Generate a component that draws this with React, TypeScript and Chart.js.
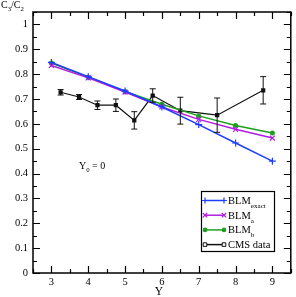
import { useEffect, useRef } from 'react';
import { Chart, registerables } from 'chart.js';
Chart.register(...registerables);

const rapidity = [3, 4, 5, 6, 7, 8, 9];
const blmExact = [0.847, 0.79, 0.732, 0.668, 0.597, 0.523, 0.45];
const blmA = [0.835, 0.785, 0.728, 0.668, 0.618, 0.578, 0.543];
const blmB = [0.845, 0.788, 0.73, 0.679, 0.632, 0.593, 0.563];
const cmsRapidity = [3.25, 3.75, 4.25, 4.75, 5.25, 5.75, 6.5, 7.5, 8.75];
const cmsValues = [0.727, 0.708, 0.675, 0.675, 0.614, 0.714, 0.653, 0.635, 0.735];
const cmsErrors = [0.011, 0.01, 0.017, 0.025, 0.035, 0.027, 0.054, 0.069, 0.055];
const xTickValues = [3, 4, 5, 6, 7, 8, 9];
const yTickValues = [0, 0.1, 0.2, 0.3, 0.4, 0.5, 0.6, 0.7, 0.8, 0.9, 1];

const BLUE = '#1f3dff';
const MAGENTA = '#b01ee0';
const GREEN = '#1ea01e';
const BLACK = '#111111';
const FONT = '"Liberation Serif", "Times New Roman", serif';

function drawSubText(ctx: CanvasRenderingContext2D, x: number, y: number, main: string, sub: string, size: number, rest = '', drop = 0.35) {
  ctx.font = `${size}px ${FONT}`;
  ctx.textBaseline = 'alphabetic';
  ctx.textAlign = 'left';
  ctx.fillText(main, x, y);
  let w = ctx.measureText(main).width;
  ctx.font = `${size * 0.68}px ${FONT}`;
  ctx.fillText(sub, x + w, y + size * drop);
  w += ctx.measureText(sub).width;
  if (rest) {
    ctx.font = `${size}px ${FONT}`;
    ctx.fillText(rest, x + w, y);
    w += ctx.measureText(rest).width;
  }
  return w;
}

const framePlugin = {
  id: 'frameTicks',
  afterDatasetsDraw(chart: any) {
    const { ctx, chartArea: a, scales } = chart;
    const xs = scales.x, ys = scales.y;
    ctx.save();
    // error bars
    ctx.strokeStyle = BLACK;
    ctx.lineWidth = 1;
    cmsRapidity.forEach((r, i) => {
      const px = xs.getPixelForValue(r);
      const top = ys.getPixelForValue(cmsValues[i] + cmsErrors[i]);
      const bot = ys.getPixelForValue(cmsValues[i] - cmsErrors[i]);
      ctx.beginPath();
      ctx.moveTo(px, top); ctx.lineTo(px, bot);
      ctx.moveTo(px - 3, top); ctx.lineTo(px + 3, top);
      ctx.moveTo(px - 3, bot); ctx.lineTo(px + 3, bot);
      ctx.stroke();
    });
    // frame
    ctx.strokeStyle = '#000';
    ctx.lineWidth = 1.5;
    ctx.strokeRect(a.left, a.top, a.right - a.left, a.bottom - a.top);
    ctx.lineWidth = 1.2;
    ctx.beginPath();
    for (let v = 2.5; v <= 9.5001; v += 0.5) {
      const px = Math.round(xs.getPixelForValue(v)) + 0.5;
      const len = Math.abs(v - Math.round(v)) < 1e-6 ? 7 : 4;
      ctx.moveTo(px, a.bottom); ctx.lineTo(px, a.bottom - len);
      ctx.moveTo(px, a.top); ctx.lineTo(px, a.top + len);
    }
    for (let k = 0; k <= 21; k++) {
      const v = k * 0.05;
      const py = Math.round(ys.getPixelForValue(v)) + 0.5;
      const len = k % 2 === 0 ? 7 : 4;
      ctx.moveTo(a.left, py); ctx.lineTo(a.left + len, py);
      ctx.moveTo(a.right, py); ctx.lineTo(a.right - len, py);
    }
    ctx.stroke();
    ctx.restore();
  },
  afterDraw(chart: any) {
    const { ctx } = chart;
    ctx.save();
    ctx.fillStyle = '#000';
    // axis titles
    const w1 = drawSubText(ctx, 1, 8, 'C', '3', 10, '', 0.3);
    drawSubText(ctx, 1 + w1, 8, '/C', '2', 10, '', 0.3);
    ctx.font = `11.5px ${FONT}`;
    ctx.textAlign = 'center';
    ctx.textBaseline = 'alphabetic';
    ctx.fillText('Y', 159, 295);
    // annotation
    drawSubText(ctx, 79, 168.5, 'Y', '0', 10, ' = 0', 0.3);
    // legend
    const bx = 201.5, by = 191.5, bw = 73, bh = 60;
    ctx.fillStyle = '#fff';
    ctx.fillRect(bx, by, bw, bh);
    ctx.strokeStyle = '#000';
    ctx.lineWidth = 1.2;
    ctx.strokeRect(bx, by, bw, bh);
    const items = [
      { main: 'BLM', sub: 'exact', color: BLUE, style: 'cross' },
      { main: 'BLM', sub: 'a', color: MAGENTA, style: 'crossRot' },
      { main: 'BLM', sub: 'b', color: GREEN, style: 'circle' },
      { main: 'CMS data', sub: '', color: BLACK, style: 'hollow' },
    ];
    items.forEach((it, i) => {
      const y = 200.5 + i * 14.7;
      ctx.strokeStyle = it.color;
      ctx.fillStyle = it.color;
      ctx.lineWidth = 1.5;
      ctx.beginPath();
      ctx.moveTo(205, y); ctx.lineTo(224, y);
      ctx.stroke();
      [205, 224].forEach((mx) => {
        ctx.beginPath();
        if (it.style === 'cross') {
          ctx.lineWidth = 1.2;
          ctx.moveTo(mx - 3, y); ctx.lineTo(mx + 3, y);
          ctx.moveTo(mx, y - 3); ctx.lineTo(mx, y + 3);
          ctx.stroke();
        } else if (it.style === 'crossRot') {
          ctx.lineWidth = 1.2;
          ctx.moveTo(mx - 2.2, y - 2.2); ctx.lineTo(mx + 2.2, y + 2.2);
          ctx.moveTo(mx - 2.2, y + 2.2); ctx.lineTo(mx + 2.2, y - 2.2);
          ctx.stroke();
        } else if (it.style === 'circle') {
          ctx.arc(mx, y, 2.3, 0, Math.PI * 2);
          ctx.fill();
        } else {
          ctx.fillStyle = '#fff';
          ctx.lineWidth = 1;
          ctx.rect(mx - 1.8, y - 1.8, 3.6, 3.6);
          ctx.fill();
          ctx.stroke();
        }
      });
      ctx.fillStyle = '#000';
      ctx.textBaseline = 'alphabetic';
      if (it.sub) drawSubText(ctx, 228, y + 3.5, it.main, it.sub, 10.5, '', 0.38);
      else {
        ctx.font = `10.5px ${FONT}`;
        ctx.textAlign = 'left';
        ctx.fillText(it.main, 228, y + 3.5);
      }
    });
    ctx.restore();
  },
};

export default function App() {
  const ref = useRef<HTMLCanvasElement>(null);
  useEffect(() => {
    if (!ref.current) return;
    const pts = (xs: number[], ys: number[]) => xs.map((x, i) => ({ x, y: ys[i] }));
    const chart = new Chart(ref.current, {
      type: 'line',
      data: {
        datasets: [
          { label: 'BLM exact', data: pts(rapidity, blmExact), borderColor: BLUE, backgroundColor: BLUE, borderWidth: 1.5, pointStyle: 'cross', pointRadius: 3.5, pointBorderWidth: 1.2 },
          { label: 'BLM a', data: pts(rapidity, blmA), borderColor: MAGENTA, backgroundColor: MAGENTA, borderWidth: 1.5, pointStyle: 'crossRot', pointRadius: 3.5, pointBorderWidth: 1.2 },
          { label: 'BLM b', data: pts(rapidity, blmB), borderColor: GREEN, backgroundColor: GREEN, borderWidth: 1.5, pointStyle: 'circle', pointRadius: 2.5, pointBorderWidth: 0 },
          { label: 'CMS data', data: pts(cmsRapidity, cmsValues), borderColor: BLACK, backgroundColor: BLACK, borderWidth: 1.2, pointStyle: 'rect', pointRadius: 3, pointBorderWidth: 0 },
        ],
      } as any,
      options: {
        animation: false,
        responsive: false,
        devicePixelRatio: 1,
        layout: { padding: { top: 12, right: 2, left: 0, bottom: 0 } },
        plugins: { legend: { display: false }, tooltip: { enabled: false } },
        elements: { line: { tension: 0 } },
        scales: {
          x: {
            type: 'linear', min: 2.5, max: 9.5,
            afterBuildTicks: (s: any) => { s.ticks = xTickValues.map((v) => ({ value: v })); },
            afterFit: (s: any) => { s.height = 24; },
            grid: { display: false, drawTicks: false },
            border: { display: false },
            ticks: { color: '#000', padding: 3, maxRotation: 0, autoSkip: false, font: { family: FONT, size: 10.5 } },
          },
          y: {
            type: 'linear', min: 0, max: 1.05,
            afterBuildTicks: (s: any) => { s.ticks = yTickValues.map((v) => ({ value: v })); },
            afterFit: (s: any) => { s.width = 33; },
            grid: { display: false, drawTicks: false },
            border: { display: false },
            ticks: { color: '#000', padding: 5, autoSkip: false, font: { family: FONT, size: 10.5 }, callback: (v: any) => String(Math.round(Number(v) * 10) / 10) },
          },
        },
      } as any,
      plugins: [framePlugin],
    });
    return () => chart.destroy();
  }, []);
  return (
    <div style={{ position: 'absolute', left: 0, top: 0, width: 296, height: 297, background: '#fff' }}>
      <canvas ref={ref} width={296} height={297} style={{ display: 'block' }} />
    </div>
  );
}
